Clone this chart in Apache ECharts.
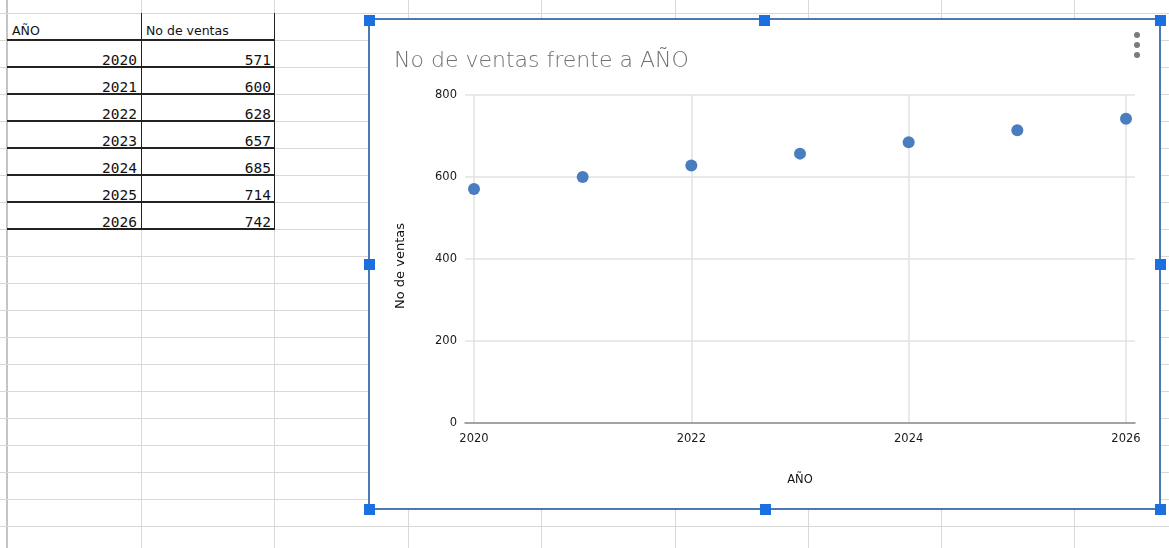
<!DOCTYPE html>
<html>
<head>
<meta charset="utf-8">
<script src="https://cdn.jsdelivr.net/npm/echarts@6/dist/echarts.min.js"></script>
<style>
  html, body { margin: 0; padding: 0; background: #fff; }
  body { width: 1169px; height: 548px; position: relative; overflow: hidden; }
  #sheet { position: absolute; left: 0; top: 0; width: 1169px; height: 548px; }
  .vline { position: absolute; top: 0; width: 1px; height: 548px; background: #d8d8d8; }
  .hline { position: absolute; left: 0; height: 1px; width: 1169px; background: #d8d8d8; }
  .cell { position: absolute; height: 27px; box-sizing: border-box; font-family: "DejaVu Sans", sans-serif; color: #111; white-space: nowrap; }
  .num { font-family: "DejaVu Sans Mono", monospace; font-size: 14.5px; text-align: right; line-height: 1; }
  .head { font-size: 12.5px; line-height: 1; }
  .bline { position: absolute; background: #222; }
  #box { position: absolute; left: 368px; top: 18px; width: 793px; height: 492px; box-sizing: border-box;
         border: 2px solid #4b79b6; background: #fff; }
  #chart { position: absolute; left: 0; top: 0; width: 1169px; height: 548px; }
  .handle { position: absolute; width: 11px; height: 11px; background: #1b6fe0; margin-left: -5.5px; margin-top: -5.5px; }
</style>
</head>
<body>
<div id="sheet"></div>
<div id="box"></div>
<div id="chart"></div>
<div id="handles"></div>
<script>
// Sales per year
const years = [2020, 2021, 2022, 2023, 2024, 2025, 2026];
const ventas = [571, 600, 628, 657, 685, 714, 742];
const headers = ['AÑO', 'No de ventas'];
const chartTitle = 'No de ventas frente a AÑO';
const yTicks = [0, 800, 200];   // min, max, interval
const xTicks = [2020, 2026, 2];  // min, max, interval

// ---- spreadsheet background ----
const sheet = document.getElementById('sheet');
const colX = [141, 274, 408, 541, 675, 808, 941, 1074];
colX.forEach(x => {
  const d = document.createElement('div');
  d.className = 'vline'; d.style.left = x + 'px';
  sheet.appendChild(d);
});
const edge = document.createElement('div');
edge.className = 'vline'; edge.style.left = '6px'; edge.style.width = '2px'; edge.style.background = '#c4c4c4';
sheet.appendChild(edge);
for (let y = 13; y < 548; y += 27) {
  const d = document.createElement('div');
  d.className = 'hline'; d.style.top = y + 'px';
  sheet.appendChild(d);
}

// data table in A1:B8
function addCell(text, left, top, width, cls) {
  const c = document.createElement('div');
  c.className = 'cell ' + cls;
  c.style.left = left + 'px'; c.style.top = top + 'px'; c.style.width = width + 'px';
  c.textContent = text;
  sheet.appendChild(c);
  return c;
}
addCell(headers[0], 12, 25, 120, 'head');
addCell(headers[1], 146, 25, 120, 'head');
years.forEach((yr, i) => {
  const top = 40 + i * 27 + 13;
  addCell(String(yr), 8, top, 129, 'num');
  addCell(String(ventas[i]), 142, top, 129, 'num');
});
function bline(l, t, w, h) {
  const d = document.createElement('div');
  d.className = 'bline';
  d.style.left = l + 'px'; d.style.top = t + 'px'; d.style.width = w + 'px'; d.style.height = h + 'px';
  sheet.appendChild(d);
}
for (let r = 0; r <= years.length; r++) bline(7, 40 + r * 27 - 1, 268, 1.5);
bline(140.5, 13, 1, 216);
bline(273.5, 13, 1.5, 216);

// ---- selection handles around the chart object ----
const handles = document.getElementById('handles');
[[369, 20], [764, 20], [1160, 20], [369, 264], [1160, 264], [369, 509], [765, 509], [1160, 509]].forEach(p => {
  const h = document.createElement('div');
  h.className = 'handle';
  h.style.left = p[0] + 'px'; h.style.top = p[1] + 'px';
  handles.appendChild(h);
});

// ---- chart ----
const chart = echarts.init(document.getElementById('chart'), null, { renderer: 'canvas' });
const gridLine = { show: true, lineStyle: { color: '#e2e2e2', width: 1.5 } };
const labelFont = { fontFamily: 'DejaVu Sans, sans-serif', fontSize: 11.5, color: '#1a1a1a' };

chart.setOption({
  backgroundColor: 'transparent',
  animation: false,
  title: {
    text: chartTitle,
    left: 389, top: 45,
    textStyle: { fontFamily: 'DejaVu Sans, sans-serif', fontWeight: 200, fontSize: 22, color: '#707070' }
  },
  graphic: [0, 1, 2].map(k => ({
    type: 'circle', shape: { cx: 1137, cy: 35 + k * 10, r: 3 }, style: { fill: '#7b7b7b' }, silent: true
  })),
  grid: [
    // full-width grid carrying the horizontal value lines
    { left: 465, right: 34, top: 95, bottom: 125 },
    // year grid carrying the points
    { left: 474, right: 43, top: 95, bottom: 125 }
  ],
  xAxis: [
    {
      gridIndex: 0, type: 'value', min: 0, max: 1,
      axisLine: { show: true, lineStyle: { color: '#8c8c8c', width: 1.5 } },
      axisTick: { show: false }, axisLabel: { show: false }, splitLine: { show: false }
    },
    {
      gridIndex: 1, type: 'value', min: xTicks[0], max: xTicks[1], interval: xTicks[2],
      name: headers[0], nameLocation: 'middle', nameGap: 51,
      nameTextStyle: Object.assign({}, labelFont, { color: '#111' }),
      axisLine: { show: false }, axisTick: { show: false },
      axisLabel: Object.assign({ margin: 10, formatter: v => String(v) }, labelFont),
      splitLine: gridLine
    }
  ],
  yAxis: [
    {
      gridIndex: 0, type: 'value', min: yTicks[0], max: yTicks[1], interval: yTicks[2],
      name: headers[1], nameLocation: 'middle', nameGap: 58,
      nameTextStyle: Object.assign({}, labelFont, { color: '#111', fontSize: 13, padding: [0, 14, 0, 0] }),
      axisLine: { show: false }, axisTick: { show: false },
      axisLabel: Object.assign({ margin: 8 }, labelFont),
      splitLine: gridLine
    },
    {
      gridIndex: 1, type: 'value', min: yTicks[0], max: yTicks[1], interval: yTicks[2], show: false
    }
  ],
  series: [{
    type: 'scatter',
    xAxisIndex: 1, yAxisIndex: 1,
    data: years.map((y, i) => [y, ventas[i]]),
    symbolSize: 12,
    itemStyle: { color: '#4a7cc0', opacity: 1 }
  }]
});
</script>
</body>
</html>
